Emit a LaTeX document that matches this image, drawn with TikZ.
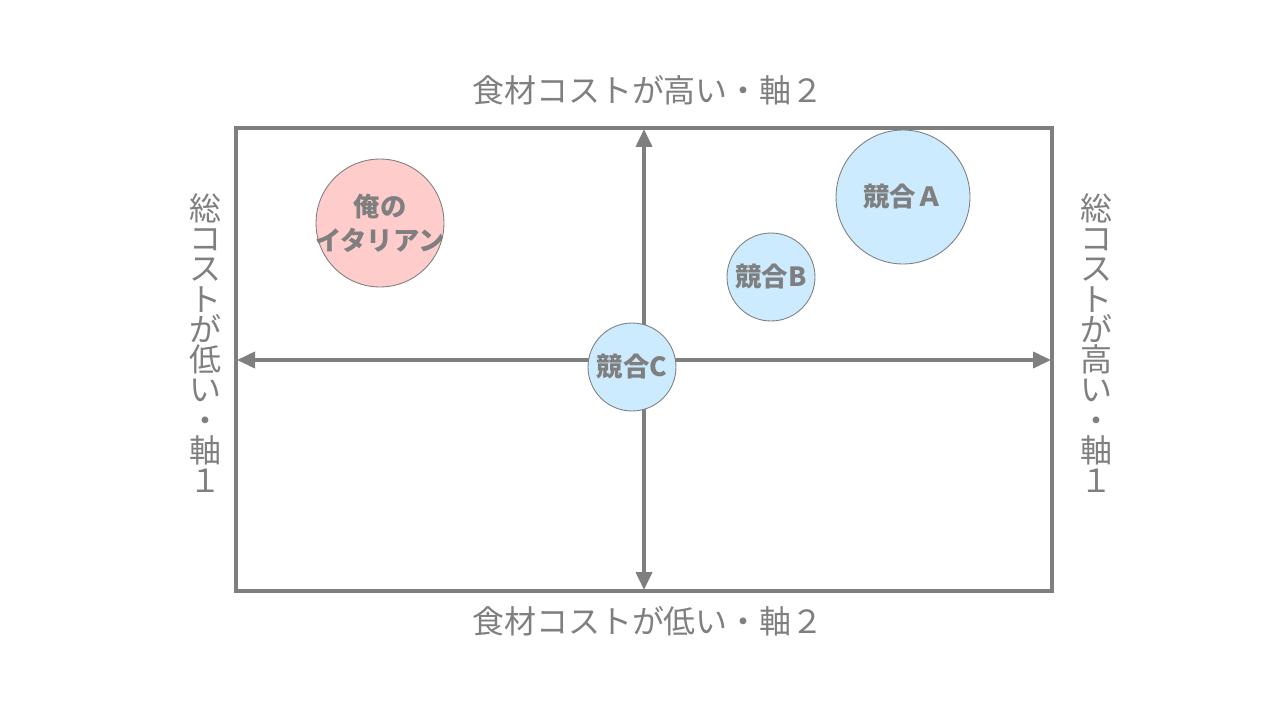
\documentclass[tikz,border=0pt]{standalone}
\usepackage{fontspec}
\setmainfont{Noto Sans CJK JP}
\usepackage{xcolor}
\usepackage{tikz}
\usetikzlibrary{arrows.meta}
\definecolor{axisgray}{HTML}{7F7F7F}
\definecolor{ownred}{HTML}{FFCCCC}
\definecolor{rivalblue}{HTML}{CCEBFF}

\begin{document}
\begin{tikzpicture}[
  x=0.02cm,y=-0.02cm,
  bubble/.style={circle,draw=axisgray,line width=0.5pt,inner sep=0pt,align=center,text=axisgray,font=\bfseries\fontsize{15}{19.5}\selectfont},
  axlabel/.style={text=axisgray,align=center,inner sep=0pt,font=\fontsize{18.2}{17.2}\selectfont},
  arr/.style={{Triangle[length=3.6mm,width=3.2mm]}-{Triangle[length=3.6mm,width=3.2mm]},draw=axisgray,line width=2.2pt}
]
\useasboundingbox (0,0) rectangle (1280,720);
% frame
\draw[axisgray,line width=2pt] (236,128) rectangle (1052,591);
% axes
\coordinate (ytop) at (644,129);
\coordinate (ybot) at (644,590);
\coordinate (xleft) at (237,360);
\coordinate (xright) at (1051,360);
\draw[arr] (ybot) -- (ytop);
\draw[arr] (xleft) -- (xright);
% axis labels
\node[axlabel] (top) at (648,90) {食材コストが高い・軸２};
\node[axlabel] (bottom) at (648,621) {食材コストが低い・軸２};
\node[axlabel] (left) at (205,343) {総\\コ\\ス\\ト\\が\\低\\い\\・\\軸\\１};
\node[axlabel] (right) at (1096,343) {総\\コ\\ス\\ト\\が\\高\\い\\・\\軸\\１};
% bubbles
\node[bubble,fill=ownred,minimum size=2.56cm] (own) at (380,223) {};
\node[bubble,draw=none] (ownlabel) at (own) {俺の\\イタリアン};
\node[bubble,fill=rivalblue,minimum size=2.68cm] (rivalA) at (903,197) {競合Ａ};
\node[bubble,fill=rivalblue,minimum size=1.76cm] (rivalB) at (771,277) {競合B};
\node[bubble,fill=rivalblue,minimum size=1.76cm] (rivalC) at (632,367) {競合C};
\end{tikzpicture}
\end{document}
